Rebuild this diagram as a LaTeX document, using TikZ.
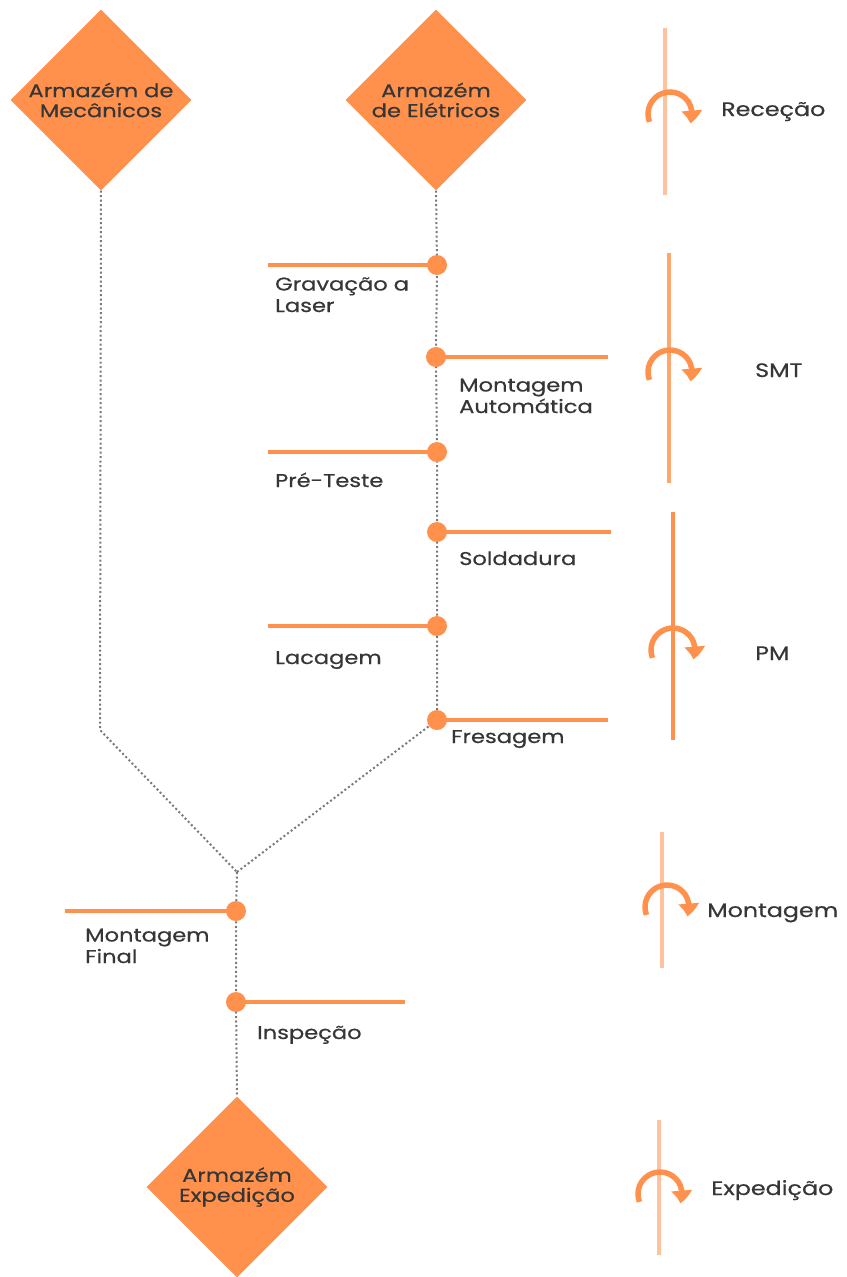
\documentclass[tikz,border=0pt]{standalone}
\usepackage{fontspec}
\setmainfont{Poppins}[FakeStretch=1.22,FakeBold=0.5]
\usetikzlibrary{shapes.geometric,arrows.meta,bending,backgrounds}
\definecolor{brand}{HTML}{FF914D}
\definecolor{brandmid}{HTML}{FFA56E}
\definecolor{brandlight}{HTML}{FFC29C}
\definecolor{ink}{HTML}{363636}
\definecolor{track}{HTML}{7A7A7A}
\tikzset{
  store/.style={diamond, aspect=1, fill=brand, draw=none, minimum width=181pt,
    minimum height=181pt, inner sep=0pt, align=center, text=ink,
    font=\fontsize{18.5}{20}\selectfont},
  station/.style={circle, fill=brand, draw=none, minimum size=20pt, inner sep=0pt},
  flow/.style={draw=track, line width=2pt, dash pattern=on 2pt off 2.5pt},
  tick/.style={draw=brand, line width=3.5pt},
  caption/.style={anchor=base west, inner sep=0pt, align=left, text=ink,
    font=\fontsize{18.5}{21.5}\selectfont},
  stage/.style={anchor=base west, inner sep=0pt, text=ink,
    font=\fontsize{19.5}{22}\selectfont},
  phase/.style={line width=4pt},
  turnarrow/.style={draw=brand, line width=5.5pt,
    -{Triangle[width=20pt,length=13pt,bend]}},
  turn/.pic={\draw[turnarrow] (201:22pt) arc[start angle=201, end angle=-25, radius=22pt];}
}
\begin{document}
\begin{tikzpicture}[x=1pt,y=1pt]
\useasboundingbox (0,0) rectangle (846,-1277);

% storage diamonds
\node[store] (mec) at (101,-100) {Armazém de\\Mecânicos};
\node[store] (ele) at (436,-100) {Armazém\\de Elétricos};
\node[store] (exp) at (237,-1187) {Armazém\\Expedição};

% stations on the electronics line
\node[station] (grav) at (437,-265) {};
\node[station] (smt)  at (436,-357) {};
\node[station] (pre)  at (437,-452) {};
\node[station] (sold) at (437,-532) {};
\node[station] (lac)  at (437,-626) {};
\node[station] (fres) at (437,-720) {};
% stations on the assembly line
\node[station] (final) at (236,-911) {};
\node[station] (insp)  at (236,-1002) {};

% route corners and tick ends
\coordinate (bend) at (100,-730);
\coordinate (join) at (237,-872);
\coordinate (grav-end) at (268,-265);
\coordinate (smt-end)  at (608,-357);
\coordinate (pre-end)  at (268,-452);
\coordinate (sold-end) at (611,-532);
\coordinate (lac-end)  at (268,-626);
\coordinate (fres-end) at (608,-720);
\coordinate (final-end) at (65,-911);
\coordinate (insp-end)  at (405,-1002);

\begin{pgfonlayer}{background}
  \draw[flow] (mec.south) -- (bend) -- (join);
  \draw[flow] (ele.south) -- (grav.center) -- (smt.center) -- (pre.center)
     -- (sold.center) -- (lac.center) -- (fres.center) -- (join);
  \draw[flow] (join) -- (final.center) -- (insp.center) -- (exp.north);
  \draw[tick] (grav-end) -- (grav.center);
  \draw[tick] (smt.center) -- (smt-end);
  \draw[tick] (pre-end) -- (pre.center);
  \draw[tick] (sold.center) -- (sold-end);
  \draw[tick] (lac-end) -- (lac.center);
  \draw[tick] (fres.center) -- (fres-end);
  \draw[tick] (final-end) -- (final.center);
  \draw[tick] (insp.center) -- (insp-end);
\end{pgfonlayer}

% station captions (base = baseline of the last line)
\node[caption] (t-grav) at (275,-312) {Gravação a\\Laser};
\node[caption] (t-smt)  at (459,-413) {Montagem\\Automática};
\node[caption] (t-pre)  at (275,-487) {Pré-Teste};
\node[caption] (t-sold) at (459,-565) {Soldadura};
\node[caption] (t-lac)  at (275,-664) {Lacagem};
\node[caption] (t-fres) at (451,-743) {Fresagem};
\node[caption] (t-final) at (85,-963) {Montagem\\Final};
\node[caption] (t-insp)  at (257,-1039) {Inspeção};

% process phases on the right
\coordinate (rec-top) at (665,-28);   \coordinate (rec-bot) at (665,-195);
\coordinate (smtp-top) at (669,-253); \coordinate (smtp-bot) at (669,-483);
\coordinate (pm-top) at (673,-512);   \coordinate (pm-bot) at (673,-740);
\coordinate (mon-top) at (662,-832);  \coordinate (mon-bot) at (662,-968);
\coordinate (exq-top) at (659,-1120); \coordinate (exq-bot) at (659,-1255);
\draw[phase, brandlight] (rec-top) -- (rec-bot);
\draw[phase, brandmid] (smtp-top) -- (smtp-bot);
\draw[phase, brand] (pm-top) -- (pm-bot);
\draw[phase, brandlight] (mon-top) -- (mon-bot);
\draw[phase, brandlight] (exq-top) -- (exq-bot);

\pic at (670,-114) {turn};
\pic at (670,-372) {turn};
\pic at (673,-650) {turn};
\pic at (667,-907) {turn};
\pic at (660,-1194) {turn};

\node[stage] (s-rec) at (721,-116) {Receção};
\node[stage] (s-smt) at (755,-377) {SMT};
\node[stage] (s-pm)  at (755,-660) {PM};
\node[stage] (s-mon) at (707,-917) {Montagem};
\node[stage] (s-exp) at (711,-1195) {Expedição};
\end{tikzpicture}
\end{document}
